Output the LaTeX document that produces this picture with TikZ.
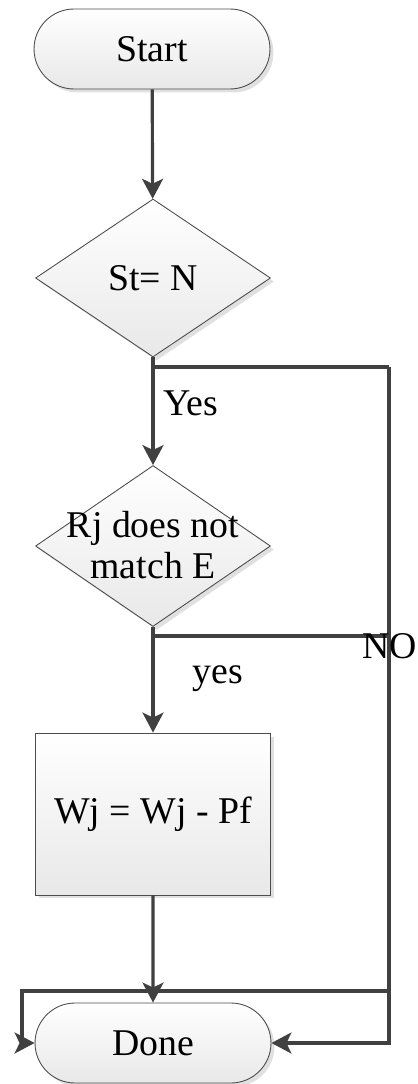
\documentclass[tikz,border=0pt]{standalone}
\usepackage{fontspec}
\setmainfont{Liberation Serif}
\usetikzlibrary{arrows.meta,shapes.geometric,shapes.misc,shadows}
\definecolor{flowline}{HTML}{404040}
\tikzset{>={Stealth[length=0.4cm,width=0.42cm,inset=0.1cm]}}
\newcommand*{\chartfont}{\fontsize{21.5}{23}\selectfont}

\begin{document}
\begin{tikzpicture}[x=0.02cm,y=-0.02cm,
  box/.style={draw=black!70,line width=0.5pt,top color=white,bottom color=black!9,
    drop shadow={shadow xshift=0.07cm,shadow yshift=-0.07cm,fill=black!12,opacity=1},
    font=\chartfont,inner sep=0pt},
  terminal/.style={box,rounded rectangle,minimum width=4.72cm,minimum height=1.6cm},
  decision/.style={box,diamond,minimum width=4.7cm,minimum height=3.16cm},
  process/.style={box,rectangle,minimum width=4.7cm,minimum height=3.24cm},
  flow/.style={draw=flowline,line width=1.8pt},
  lbl/.style={font=\chartfont,inner sep=0pt}]
\useasboundingbox (0,0) rectangle (417,1084);

% Shapes of the chart
\node[terminal] (start) at (152,49) {Start};
\node[decision] (dec1) at (153,278) {};
\node[lbl] (dec1text) at (dec1) {St= N};
\node[decision,minimum height=3.22cm] (dec2) at (153,546) {};
\node[lbl,align=center] (dec2text) at (153,545) {Rj does not\\match E};
\node[process] (upd) at (153,814) {};
\node[lbl] (updtext) at (upd) {Wj = Wj - Pf};
\node[terminal] (done) at (153,1043) {Done};

% Corners of the NO path
\coordinate (no1) at (389,367);
\coordinate (no0) at (389,636);
\coordinate (no2) at (389,991);
\coordinate (lft) at (22,991);

% Connectors
\draw[flow,->] (start) -- (dec1);
\draw[flow,->] (dec1) -- (dec2);
\draw[flow,->] (dec2) -- (upd);
\draw[flow,->] (upd) -- (done);
\draw[flow] (dec1.south |- no1) -- (no1);
\draw[flow] (dec2.south |- no0) -- (no0);
\draw[flow,->] (no1) |- (done.east);
\draw[flow,->] (no2) -- (lft) |- (done.west);

% Labels
\node[lbl,anchor=base west] (yes1) at (163,415) {Yes};
\node[lbl,anchor=base] (yes2) at (218,683) {yes};
\node[lbl,anchor=base] (no) at (390,658) {NO};
\end{tikzpicture}
\end{document}
